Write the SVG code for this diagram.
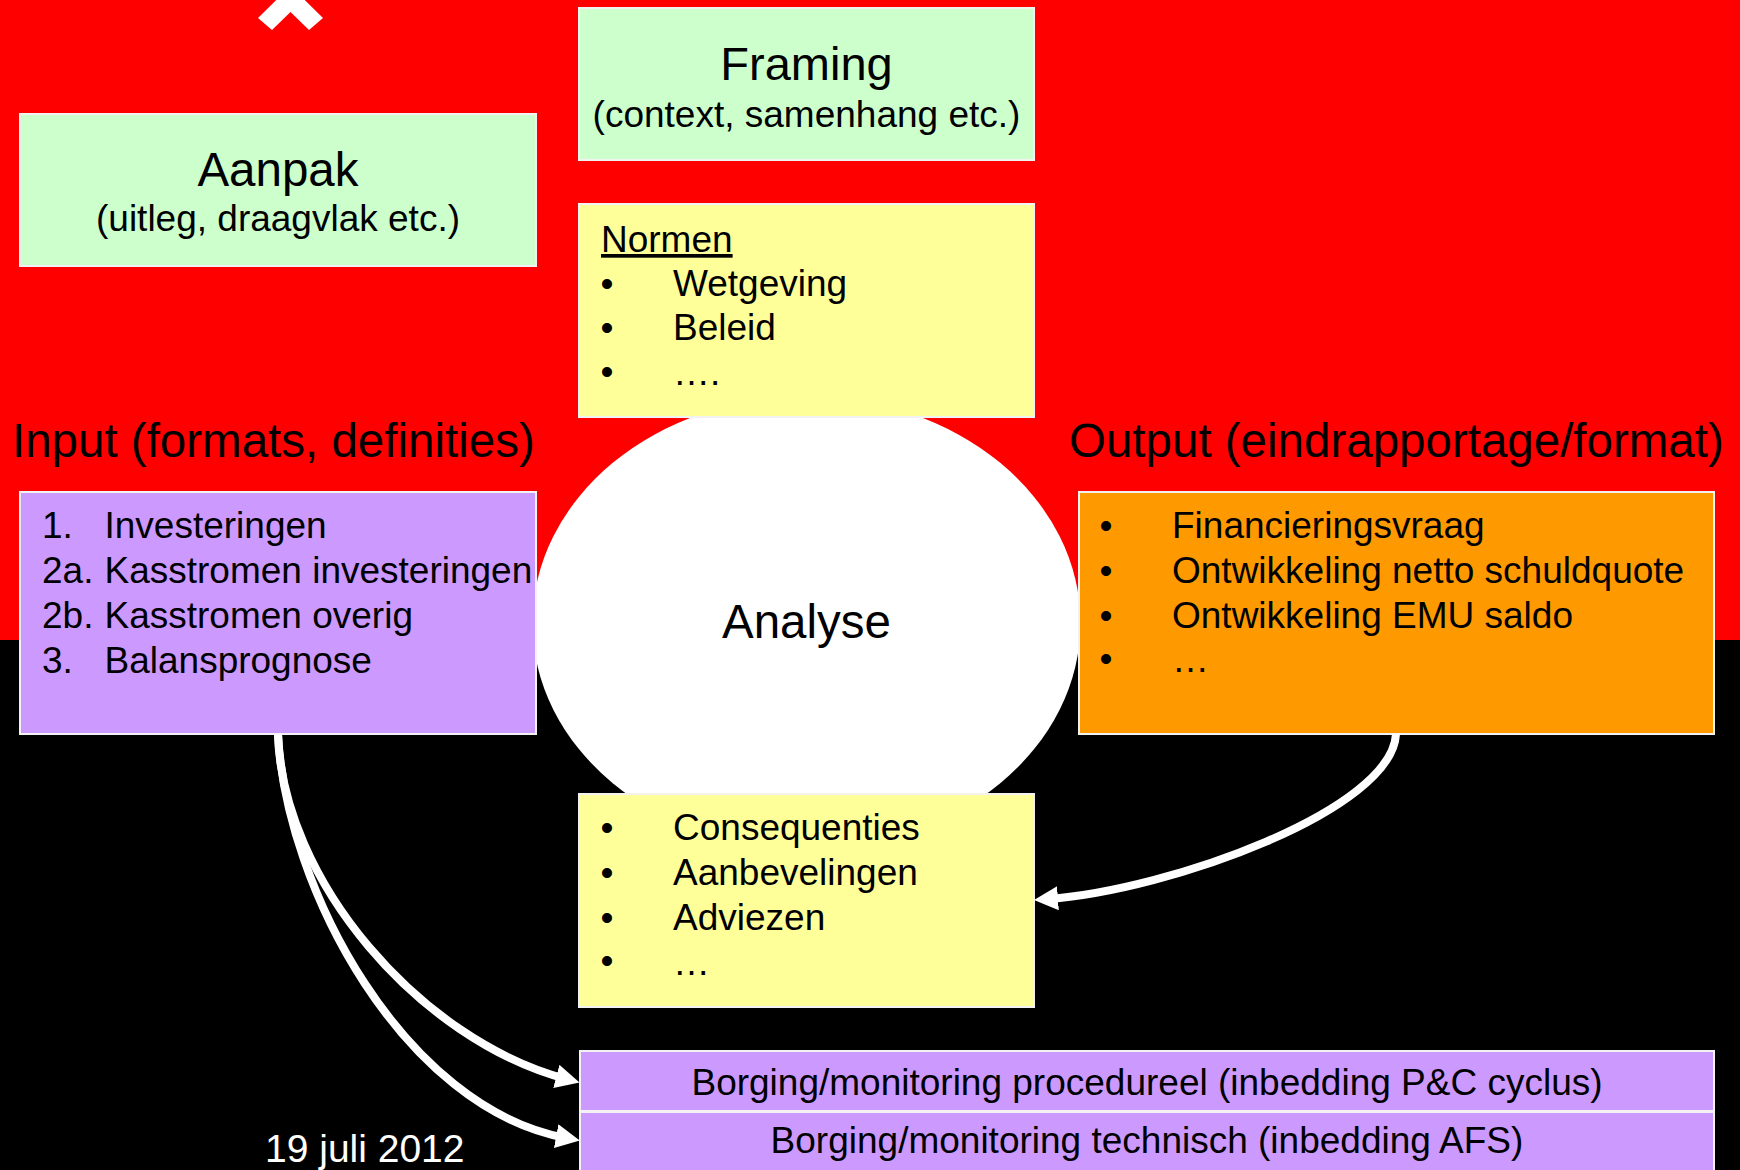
<svg xmlns="http://www.w3.org/2000/svg" width="1740" height="1170" viewBox="0 0 1740 1170">
<defs>
<style>
text{font-family:"Liberation Sans",Arial,Helvetica,sans-serif;fill:#000}
.big{font-size:47.5px}
.body{font-size:37px}
.mid{text-anchor:middle}
.box{stroke:#f2f2f2;stroke-width:2}
.green{fill:#CCFFCC}
.yellow{fill:#FFFF99}
.purple{fill:#CC99FF}
.orange{fill:#FF9900}
.conn{fill:none;stroke:#fff;stroke-width:8;marker-end:url(#ah)}
</style>
<marker id="ah" markerUnits="userSpaceOnUse" markerWidth="24" markerHeight="24" viewBox="0 0 24 24" refX="10" refY="12" orient="auto">
<path d="M0,0 L24,12 L0,24 z" fill="#fff"/>
</marker>
</defs>
<rect x="0" y="0" width="1740" height="640" fill="#FF0000"/>
<rect x="0" y="640" width="1740" height="530" fill="#000000"/>
<polygon points="258,18 290.5,-14 323,18 309,30 290.5,12 272,30" fill="#fff"/>

<g id="analyse">
<ellipse cx="806.5" cy="623" rx="274" ry="226.5" fill="#fff"/>
<text class="big mid" x="806.5" y="638">Analyse</text>
</g>

<g id="aanpak">
<rect class="box green" x="20" y="114" width="516" height="152"/>
<text class="big mid" x="278" y="186">Aanpak</text>
<text class="body mid" x="278" y="231">(uitleg, draagvlak etc.)</text>
</g>

<g id="framing">
<rect class="box green" x="579" y="8" width="455" height="152"/>
<text class="mid" x="806.5" y="80" font-size="47">Framing</text>
<text class="body mid" x="806.5" y="127">(context, samenhang etc.)</text>
</g>

<g id="normen">
<rect class="box yellow" x="579" y="204" width="455" height="213"/>
<text class="body" x="601" y="252" text-decoration="underline">Normen</text>
<text class="body mid" x="607" y="296">•</text>
<text class="body" x="673" y="296">Wetgeving</text>
<text class="body mid" x="607" y="340">•</text>
<text class="body" x="673" y="340">Beleid</text>
<text class="body mid" x="607" y="384">•</text>
<text class="body" x="673" y="385">….</text>
</g>

<g id="input-label">
<text class="big" x="12" y="457">Input (formats, definities)</text>
</g>

<g id="input">
<rect class="box purple" x="20" y="492" width="516" height="242"/>
<text class="body" x="42" y="538">1.</text>
<text class="body" x="104.5" y="538">Investeringen</text>
<text class="body" x="42" y="583">2a.</text>
<text class="body" x="104.5" y="583">Kasstromen investeringen</text>
<text class="body" x="42" y="628">2b.</text>
<text class="body" x="104.5" y="628">Kasstromen overig</text>
<text class="body" x="42" y="673">3.</text>
<text class="body" x="104.5" y="673">Balansprognose</text>
</g>

<g id="output-label">
<text class="big" x="1069" y="457">Output (eindrapportage/format)</text>
</g>

<g id="output">
<rect class="box orange" x="1079" y="492" width="635" height="242"/>
<text class="body mid" x="1106" y="538">•</text>
<text class="body" x="1172" y="538">Financieringsvraag</text>
<text class="body mid" x="1106" y="583">•</text>
<text class="body" x="1172" y="583">Ontwikkeling netto schuldquote</text>
<text class="body mid" x="1106" y="628">•</text>
<text class="body" x="1172" y="628">Ontwikkeling EMU saldo</text>
<text class="body mid" x="1106" y="671">•</text>
<text class="body" x="1172" y="672">…</text>
</g>

<g id="consequenties">
<rect class="box yellow" x="579" y="794" width="455" height="213"/>
<text class="body mid" x="607" y="840">•</text>
<text class="body" x="673" y="840">Consequenties</text>
<text class="body mid" x="607" y="885">•</text>
<text class="body" x="673" y="885">Aanbevelingen</text>
<text class="body mid" x="607" y="930">•</text>
<text class="body" x="673" y="930">Adviezen</text>
<text class="body mid" x="607" y="973">•</text>
<text class="body" x="673" y="975">…</text>
</g>

<g id="borging-procedureel">
<rect class="box purple" x="580" y="1051" width="1134" height="60"/>
<text class="body mid" x="1147" y="1095">Borging/monitoring procedureel (inbedding P&amp;C cyclus)</text>
</g>

<g id="borging-technisch">
<rect class="box purple" x="580" y="1112" width="1134" height="70"/>
<text class="body mid" x="1147" y="1153">Borging/monitoring technisch (inbedding AFS)</text>
</g>

<g id="date">
<text x="265" y="1162" font-size="39" style="fill:#fff">19 juli 2012</text>
</g>

<g id="connectors">
<path class="conn" d="M1396,734 C1392,810 1170,890 1048,899"/>
<path class="conn" d="M278,734 C282,880 420,1040 566,1079"/>
<path class="conn" d="M278,734 C286,890 405,1108 566,1138"/>
</g>
</svg>
